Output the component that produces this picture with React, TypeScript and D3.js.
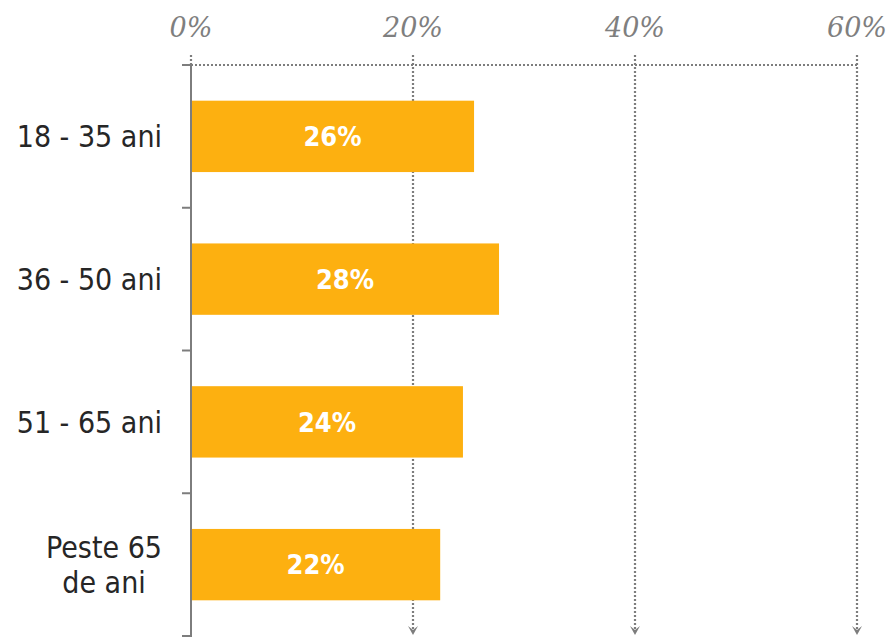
import React, { useEffect, useRef } from "react";
import * as d3 from "d3";

const categories = ["18 - 35 ani", "36 - 50 ani", "51 - 65 ani", "Peste 65\nde ani"];
const values = [25.5, 27.75, 24.5, 22.45];
const valueLabels = ["26%", "28%", "24%", "22%"];
const xTicks = [0, 20, 40, 60];

const App = () => {
  const svgRef = useRef<SVGSVGElement>(null);

  useEffect(() => {
    const svg = d3.select(svgRef.current);
    svg.selectAll("*").remove();

    const width = 894;
    const height = 637;
    const margin = { top: 65, right: 37, bottom: 1, left: 191 };
    const grey = "#7d7d7d";

    const x = d3.scaleLinear().domain([0, 60]).range([margin.left, width - margin.right]);
    const y = d3
      .scaleBand()
      .domain(categories)
      .range([margin.top, height - margin.bottom])
      .paddingInner(0.5)
      .paddingOuter(0.25);
    const bandStep = y.step();
    const bandTop = (c: string) => (y(c) as number) - (y.step() * y.paddingInner()) / 2;

    // top dotted gridline
    svg.append("line")
      .attr("x1", x(0)).attr("x2", x(60))
      .attr("y1", margin.top).attr("y2", margin.top)
      .attr("stroke", grey).attr("stroke-width", 2)
      .attr("stroke-dasharray", "2,2");

    // vertical dotted gridlines with arrow heads
    xTicks.forEach(t => {
      const gx = x(t);
      svg.append("line")
        .attr("x1", gx).attr("x2", gx)
        .attr("y1", margin.top - 10)
        .attr("y2", t === 0 ? margin.top : height - 6)
        .attr("stroke", grey).attr("stroke-width", 2.2)
        .attr("stroke-dasharray", "2,2");
      if (t !== 0) {
        svg.append("path")
          .attr("d", `M${gx - 5},${height - 11} L${gx},${height - 2} L${gx + 5},${height - 11} L${gx},${height - 7} Z`)
          .attr("fill", grey)
          .attr("stroke", "none");
      }
      svg.append("text")
        .attr("x", gx).attr("y", 37)
        .attr("text-anchor", "middle")
        .attr("font-family", "DejaVu Serif")
        .attr("font-style", "italic")
        .attr("font-size", 27)
        .attr("fill", "#7f7f7f")
        .text(`${t}%`);
    });

    // bars
    categories.forEach((c, i) => {
      const by = y(c) as number;
      svg.append("rect")
        .attr("x", x(0))
        .attr("y", by)
        .attr("width", x(values[i]) - x(0))
        .attr("height", y.bandwidth())
        .attr("fill", "#fdb010");
      svg.append("text")
        .attr("x", (x(0) + x(values[i])) / 2)
        .attr("y", by + y.bandwidth() / 2)
        .attr("dy", "0.36em")
        .attr("text-anchor", "middle")
        .attr("font-family", "DejaVu Sans Condensed")
        .attr("font-weight", "bold")
        .attr("font-size", 27)
        .attr("fill", "#ffffff")
        .text(valueLabels[i]);
    });

    // left axis
    svg.append("line")
      .attr("x1", x(0)).attr("x2", x(0))
      .attr("y1", margin.top).attr("y2", height)
      .attr("stroke", grey).attr("stroke-width", 2);

    const tickYs = categories.map(bandTop).concat([bandTop(categories[categories.length - 1]) + bandStep]);
    tickYs.forEach(ty => {
      svg.append("line")
        .attr("x1", x(0) - 9).attr("x2", x(0))
        .attr("y1", ty).attr("y2", ty)
        .attr("stroke", grey).attr("stroke-width", 2);
    });

    // category labels
    const lineH = 35;
    categories.forEach(c => {
      const lines = c.split("\n");
      const cy = (y(c) as number) + y.bandwidth() / 2;
      const g = svg.append("g");
      const t = g.append("text")
        .attr("text-anchor", "middle")
        .attr("font-family", "DejaVu Sans Condensed")
        .attr("font-size", 30)
        .attr("fill", "#262626");
      lines.forEach((l, k) => {
        t.append("tspan")
          .attr("x", 0)
          .attr("y", cy + (k - (lines.length - 1) / 2) * lineH)
          .attr("dy", "0.36em")
          .text(l);
      });
      const w = (t.node() as SVGTextElement).getBBox().width;
      g.attr("transform", `translate(${x(0) - 29 - w / 2},0)`);
    });
  }, []);

  return (
    <svg
      ref={svgRef}
      width={894}
      height={637}
      style={{ position: "absolute", left: 0, top: 0, background: "#fff" }}
    />
  );
};

export default App;
